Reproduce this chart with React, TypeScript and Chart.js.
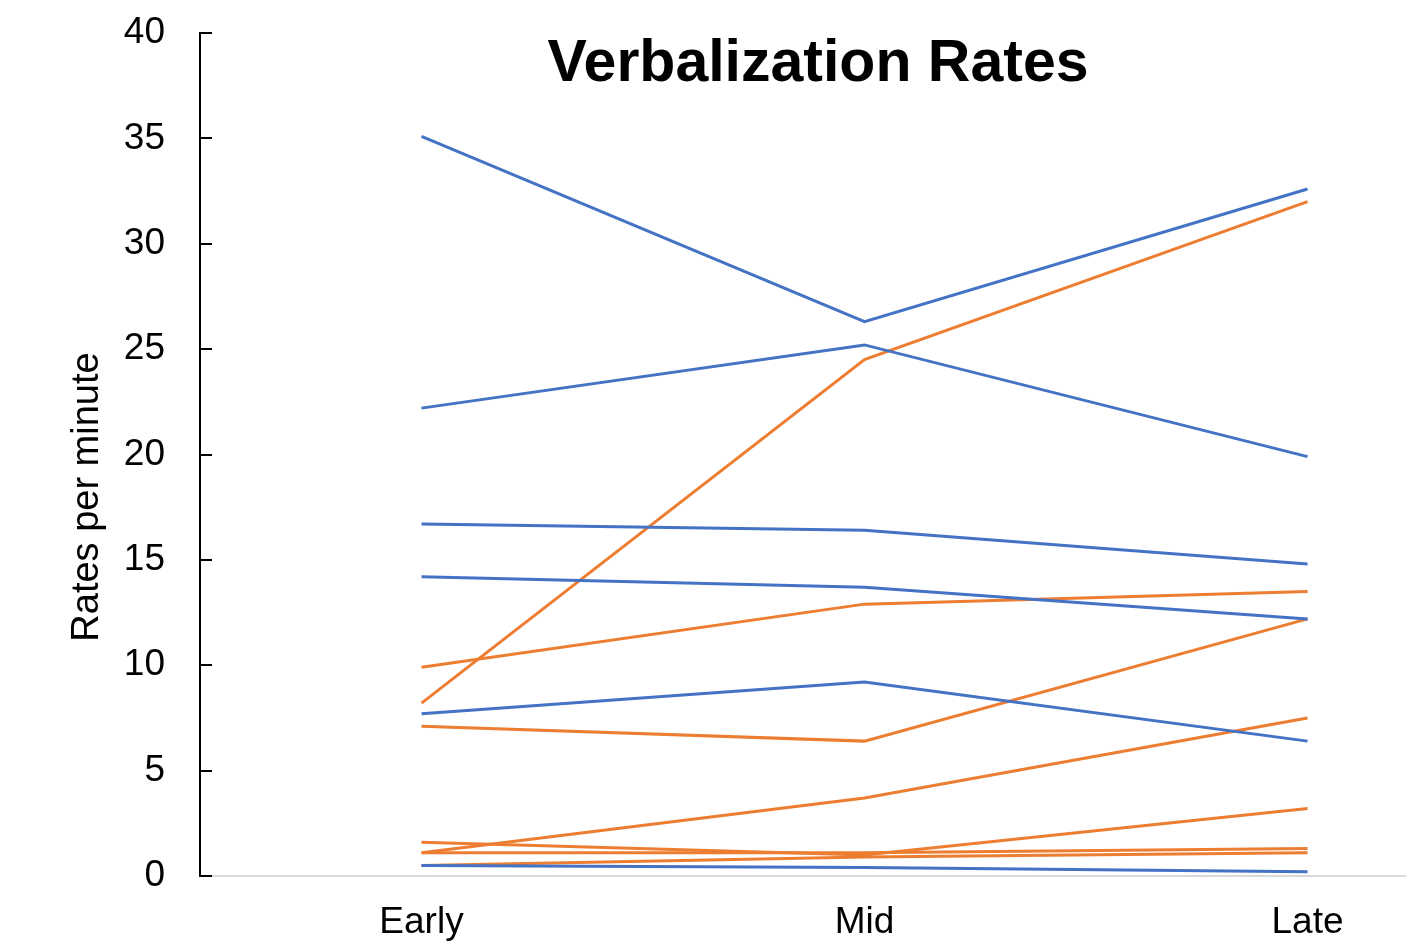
import React, { useEffect, useRef } from "react";
import { Chart, registerables } from "chart.js";

Chart.register(...registerables);

// Phases of the session, placed at x = 0, 1, 2
const stages = ["Early", "Mid", "Late"];

// Blue group: rates per minute at each phase
const blueA = [35.1, 26.3, 32.6];
const blueB = [22.2, 25.2, 19.9];
const blueC = [16.7, 16.4, 14.8];
const blueD = [14.2, 13.7, 12.2];
const blueE = [7.7, 9.2, 6.4];
const blueF = [0.5, 0.4, 0.2];

// Orange group: rates per minute at each phase
const orangeA = [8.2, 24.5, 32.0];
const orangeB = [9.9, 12.9, 13.5];
const orangeC = [7.1, 6.4, 12.2];
const orangeD = [1.1, 3.7, 7.5];
const orangeE = [1.6, 1.0, 3.2];
const orangeF = [1.1, 1.1, 1.3];
const orangeG = [0.5, 0.9, 1.1];

const yTicks = [0, 5, 10, 15, 20, 25, 30, 35, 40];

const BLUE = "#4472C4";
const ORANGE = "#ED7D31";
const FONT = "'Liberation Sans', Arial, Helvetica, sans-serif";

const toPoints = (vals: number[]) => vals.map((v, i) => ({ x: i, y: v }));

const makeSet = (vals: number[], color: string) => ({
  data: toPoints(vals),
  borderColor: color,
  backgroundColor: color,
  borderWidth: 3,
  pointRadius: 0,
  pointHoverRadius: 0,
  fill: false,
  tension: 0,
});

// Short inward tick marks on the value axis, plus title and axis caption
const decorations = {
  id: "decorations",
  afterDraw(chart: any) {
    const { ctx, scales } = chart;
    const y = scales.y;
    ctx.save();
    ctx.strokeStyle = "#000";
    ctx.lineWidth = 2;
    yTicks.forEach((t) => {
      const py = Math.round(y.getPixelForValue(t));
      ctx.beginPath();
      ctx.moveTo(y.right, py);
      ctx.lineTo(y.right + 12, py);
      ctx.stroke();
    });

    ctx.fillStyle = "#000";
    ctx.font = `bold 59px ${FONT}`;
    ctx.textAlign = "center";
    ctx.textBaseline = "middle";
    ctx.fillText("Verbalization Rates", 818, 65);

    ctx.translate(88, 497);
    ctx.rotate(-Math.PI / 2);
    ctx.font = `38px ${FONT}`;
    ctx.fillText("Rates per minute", 0, 0);
    ctx.restore();
  },
};

export default function App() {
  const canvasRef = useRef<HTMLCanvasElement | null>(null);

  useEffect(() => {
    if (!canvasRef.current) return;
    const chart = new Chart(canvasRef.current, {
      type: "line",
      data: {
        datasets: [
          makeSet(blueA, BLUE),
          makeSet(blueB, BLUE),
          makeSet(blueC, BLUE),
          makeSet(blueD, BLUE),
          makeSet(blueE, BLUE),
          makeSet(blueF, BLUE),
          makeSet(orangeA, ORANGE),
          makeSet(orangeB, ORANGE),
          makeSet(orangeC, ORANGE),
          makeSet(orangeD, ORANGE),
          makeSet(orangeE, ORANGE),
          makeSet(orangeF, ORANGE),
          makeSet(orangeG, ORANGE),
        ],
      },
      options: {
        animation: false,
        responsive: true,
        maintainAspectRatio: false,
        layout: { padding: { top: 33, right: 11, left: 0, bottom: 0 } },
        plugins: {
          legend: { display: false },
          title: { display: false },
          tooltip: { enabled: false },
        },
        scales: {
          x: {
            type: "linear",
            min: -0.5,
            max: 2.22,
            afterFit: (scale: any) => {
              scale.height = 66;
              scale.paddingLeft = 0;
              scale.paddingRight = 0;
            },
            afterBuildTicks: (scale: any) => {
              scale.ticks = stages.map((_, i) => ({ value: i }));
            },
            grid: { display: true, drawOnChartArea: false, drawTicks: false },
            border: { display: true, color: "#d9d9d9", width: 2 },
            ticks: {
              color: "#000",
              padding: 25,
              maxRotation: 0,
              autoSkip: false,
              font: { family: FONT, size: 37 },
              callback: (v: any) => stages[v as number] ?? "",
            },
          },
          y: {
            type: "linear",
            min: 0,
            max: 40,
            afterFit: (scale: any) => {
              scale.width = 200;
              scale.paddingTop = 0;
              scale.paddingBottom = 0;
            },
            afterBuildTicks: (scale: any) => {
              scale.ticks = yTicks.map((v) => ({ value: v }));
            },
            grid: { display: true, drawOnChartArea: false, drawTicks: false },
            border: { display: true, color: "#000", width: 2 },
            ticks: {
              color: "#000",
              padding: 35,
              font: { family: FONT, size: 37 },
            },
          },
        },
      },
      plugins: [decorations],
    });
    return () => chart.destroy();
  }, []);

  return (
    <div
      style={{
        position: "fixed",
        left: 0,
        top: 0,
        width: 1416,
        height: 942,
        background: "#fff",
      }}
    >
      <canvas ref={canvasRef} />
    </div>
  );
}
